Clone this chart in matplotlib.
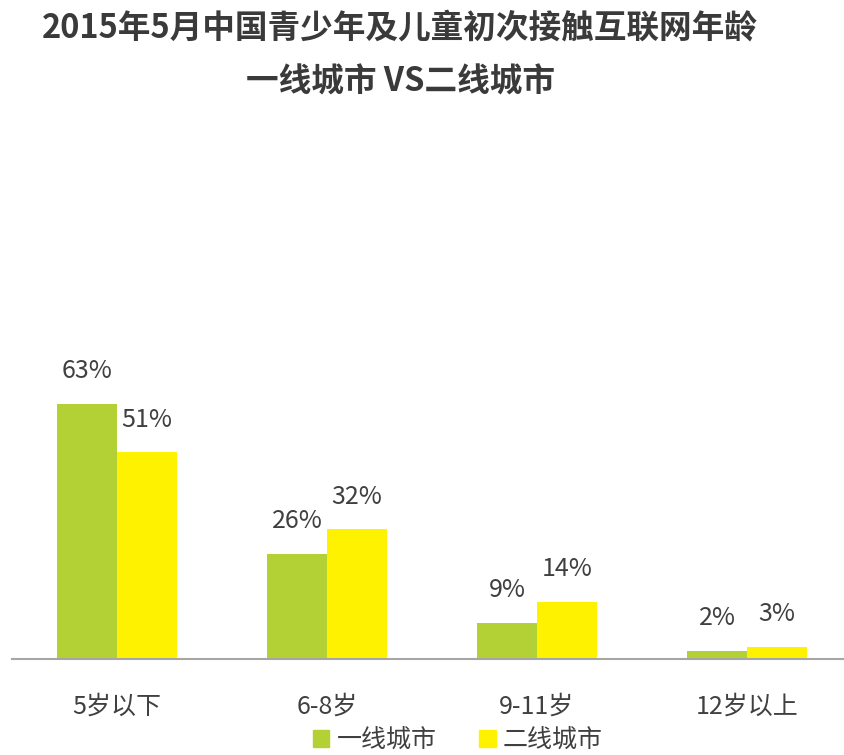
import matplotlib
matplotlib.use("Agg")
import matplotlib.pyplot as plt
import numpy as np
from matplotlib.patches import Patch

plt.rcParams['font.family'] = ['Noto Sans CJK SC', 'DejaVu Sans']

categories = ["5岁以下", "6-8岁", "9-11岁", "12岁以上"]
tier1 = [63, 26, 9, 2]
tier2 = [51, 32, 14, 3]
series_names = ["一线城市", "二线城市"]
title_line1 = "2015年5月中国青少年及儿童初次接触互联网年龄"
title_line2 = "一线城市 VS二线城市"

green = "#B3D135"
yellow = "#FFF200"
txt = "#404040"

fig = plt.figure(figsize=(8.44, 7.55), dpi=100)
ax = fig.add_axes([12/844, (755-659)/755, 840/844, 283.5/755])

x = np.arange(len(categories))
w = 60/210
b1 = ax.bar(x - w/2, tier1, width=w, color=green)
b2 = ax.bar(x + w/2, tier2, width=w, color=yellow)

for bars, vals in ((b1, tier1), (b2, tier2)):
    for r, v in zip(bars, vals):
        ax.text(r.get_x() + r.get_width()/2, v + 8.1, f"{v}%", ha="center", va="center",
                fontsize=18, color=txt)

ax.set_xlim(-0.5, 3.5)
ax.set_ylim(0, 70)
ax.set_yticks([])
ax.set_xticks(x)
ax.set_xticklabels(categories, fontsize=18, color=txt)
ax.tick_params(axis="x", length=0, pad=25)
for s in ("top", "right", "left"):
    ax.spines[s].set_visible(False)
ax.spines["bottom"].set_color("#A6A6A6")
ax.spines["bottom"].set_linewidth(1.5)

handles = [Patch(color=green), Patch(color=yellow)]
fig.legend(handles, series_names, loc="center", bbox_to_anchor=(458/844, 1 - 740/755),
           ncol=2, frameon=False, fontsize=18, handlelength=0.65, handleheight=0.65,
           handletextpad=0.3, columnspacing=1.7, labelcolor=txt)

fig.text(400/844, 1 - 28/755, title_line1, ha="center", va="center", fontsize=23.5,
         fontweight="bold", color="#3a3a3a")
fig.text(400/844, 1 - 82/755, title_line2, ha="center", va="center", fontsize=23.5,
         fontweight="bold", color="#3a3a3a")

fig.savefig("out.png", dpi=100)
